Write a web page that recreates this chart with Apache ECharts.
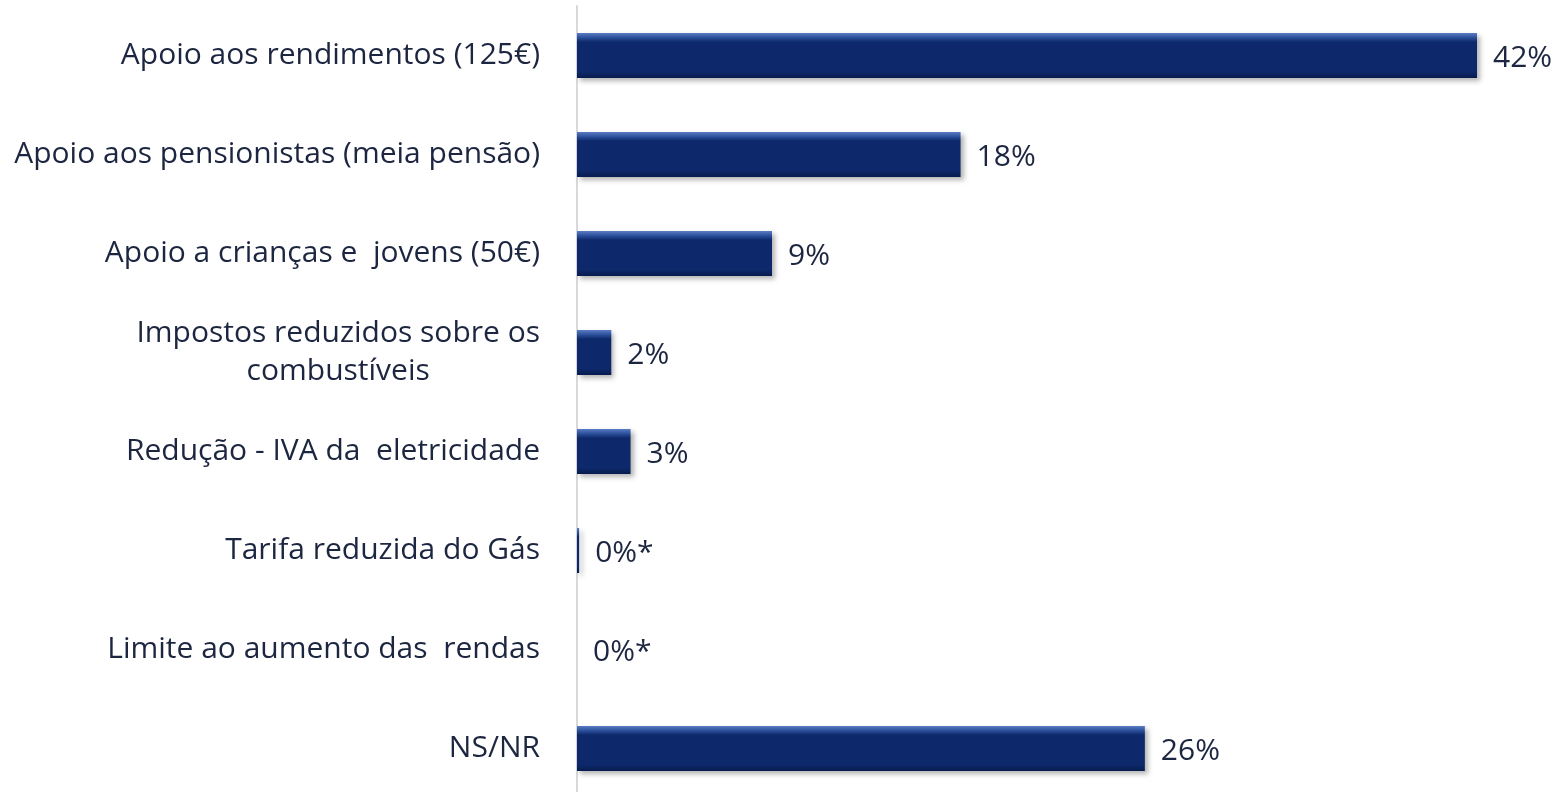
<!DOCTYPE html>
<html>
<head>
<meta charset="utf-8">
<script src="https://cdn.jsdelivr.net/npm/echarts@6/dist/echarts.min.js"></script>
<style>
  html, body { margin: 0; padding: 0; background: #fff; overflow: hidden; }
  #chart { width: 1560px; height: 798px; }
</style>
</head>
<body>
<div id="chart"></div>
<script>
// categories, top to bottom
const categories = [
  "Apoio aos rendimentos (125€)",
  "Apoio aos pensionistas (meia pensão)",
  "Apoio a crianças e  jovens (50€)",
  "Impostos reduzidos sobre os combustíveis",
  "Redução - IVA da  eletricidade",
  "Tarifa reduzida do Gás",
  "Limite ao aumento das  rendas",
  "NS/NR"
];
// bar lengths (%)
const values = [42, 17.9, 9.1, 1.6, 2.5, 0.1, 0, 26.5];
// labels printed next to the bars
const valueLabels = ["42%", "18%", "9%", "2%", "3%", "0%*", "0%*", "26%"];

const textColor = "#1d2640";
const fontFamily = "'Open Sans', 'Noto Sans', sans-serif";

let myChart = echarts.init(document.getElementById("chart"));
myChart.setOption({
  backgroundColor: "#ffffff",
  animation: false,
  grid: {
    left: 577,
    right: 83,
    top: 6,
    bottom: 0
  },
  xAxis: {
    type: "value",
    min: 0,
    max: 42,
    show: false,
    splitLine: { show: false }
  },
  yAxis: {
    type: "category",
    inverse: true,
    data: categories,
    axisLine: {
      show: true,
      lineStyle: { color: "#d9d9d9", width: 2 }
    },
    axisTick: { show: false },
    axisLabel: {
      margin: 37,
      color: textColor,
      fontSize: 30,
      fontFamily: fontFamily,
      lineHeight: 38,
      formatter: function (v) {
        if (v === "Impostos reduzidos sobre os combustíveis") {
          return "{a|Impostos reduzidos sobre os}\n{c|combustíveis}";
        }
        return v;
      },
      rich: {
        a: { fontSize: 30, fontFamily: fontFamily, color: textColor, lineHeight: 38 },
        c: { fontSize: 30, fontFamily: fontFamily, color: textColor, lineHeight: 38, align: "center" }
      }
    }
  },
  series: [
    {
      type: "bar",
      data: values,
      barWidth: 45,
      itemStyle: {
        color: new echarts.graphic.LinearGradient(0, 0, 0, 1, [
          { offset: 0, color: "#5a7cc4" },
          { offset: 0.11, color: "#2a4d98" },
          { offset: 0.2, color: "#0d296b" },
          { offset: 0.86, color: "#0d296b" },
          { offset: 1, color: "#071b4d" }
        ]),
        shadowColor: "rgba(0,0,0,0.3)",
        shadowBlur: 5,
        shadowOffsetX: 3,
        shadowOffsetY: 3
      },
      label: {
        show: true,
        position: "right",
        distance: 16,
        offset: [0, 3],
        color: textColor,
        fontSize: 30,
        fontFamily: fontFamily,
        formatter: function (p) {
          return valueLabels[p.dataIndex];
        }
      }
    }
  ]
});
</script>
</body>
</html>
